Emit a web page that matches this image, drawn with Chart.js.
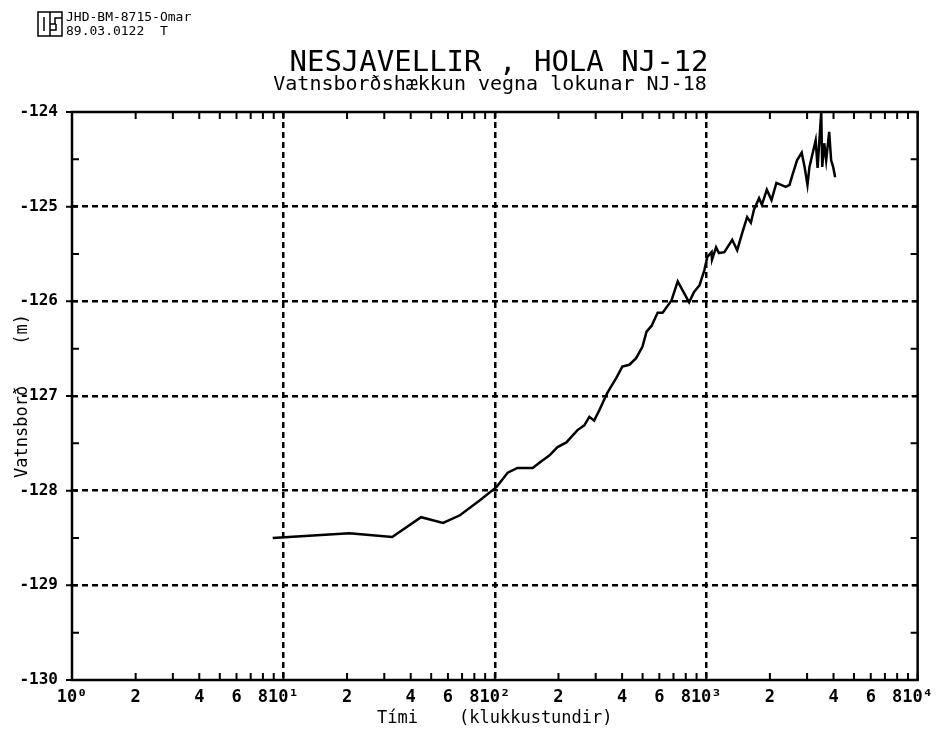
<!DOCTYPE html>
<html>
<head>
<meta charset="utf-8">
<script src="https://cdn.jsdelivr.net/npm/chart.js@4"></script>
<style>
  html, body { margin: 0; padding: 0; background: #fff; }
  #wrap { position: relative; width: 940px; height: 732px; }
</style>
</head>
<body>
<div id="wrap"><canvas id="levelChart" width="940" height="732"></canvas></div>
<script>
// hours since closing NJ-18 and water level in NJ-12 (m)
const hours = [8.9, 20.5, 32.7, 44.8, 56.9, 68.4, 85, 102, 115, 128, 151, 166, 181, 198, 218, 246, 265, 280, 295, 312,
  340, 375, 401, 433, 466, 499, 522, 551, 589, 622, 685, 733, 830, 876, 930, 980, 1012, 1060, 1065, 1113,
  1148, 1218, 1327, 1401, 1479, 1561, 1626, 1683, 1778, 1833, 1935, 2036, 2147, 2260, 2377, 2477, 2554, 2688, 2829, 2919,
  3012, 3078, 3293, 3363, 3499, 3537, 3614, 3693, 3815, 3898, 3984, 4072];
const levels = [-128.50, -128.45, -128.49, -128.28, -128.34, -128.26, -128.10, -127.96, -127.81, -127.76, -127.76, -127.69, -127.63, -127.54, -127.49, -127.36, -127.31, -127.22, -127.26, -127.15,
  -126.97, -126.81, -126.69, -126.67, -126.60, -126.48, -126.32, -126.26, -126.12, -126.12, -125.99, -125.79, -126.01, -125.90, -125.83, -125.67, -125.53, -125.48, -125.56, -125.43,
  -125.49, -125.48, -125.35, -125.46, -125.28, -125.11, -125.17, -125.03, -124.91, -124.98, -124.82, -124.93, -124.75, -124.77, -124.79, -124.77, -124.67, -124.51, -124.43, -124.58,
  -124.77, -124.58, -124.30, -124.59, -124.00, -124.58, -124.33, -124.51, -124.21, -124.51, -124.58, -124.69];

const yTicks = [-130, -129, -128, -127, -126, -125, -124];
const yMinor = [-129.5, -128.5, -127.5, -126.5, -125.5, -124.5];
const decades = [1, 10, 100, 1000, 10000];
const xLabelDigits = [2, 4, 6, 8];
const superscripts = ['\u2070', '\u00B9', '\u00B2', '\u00B3', '\u2074'];

const headerLines = ['JHD-BM-8715-Omar', '89.03.0122  T'];
const mainTitle = 'NESJAVELLIR , HOLA NJ-12';
const subTitle = 'Vatnsbor\u00F0sh\u00E6kkun vegna lokunar NJ-18';
const xTitle = 'T\u00EDmi    (klukkustundir)';
const yTitle = 'Vatnsbor\u00F0    (m)';

const mono = '"DejaVu Sans Mono", monospace';

// every 1..9 step in each decade, for the small tick marks
const xTickValues = [];
for (let k = 0; k < 4; k++) {
  for (let m = 1; m < 10; m++) xTickValues.push(m * decades[k]);
}
xTickValues.push(10000);

function xLabel(v) {
  const k = Math.round(Math.log10(v));
  if (Math.abs(v - Math.pow(10, k)) < 1e-6) return '10' + superscripts[k];
  const m = Math.round(v / Math.pow(10, Math.floor(Math.log10(v) + 1e-9)));
  return xLabelDigits.includes(m) ? String(m) : '';
}
function isInnerDecade(v) {
  return decades.slice(1, 4).some(d => Math.abs(v - d) < 1e-6);
}

const points = hours.map((h, i) => ({ x: h, y: levels[i] }));

// frame, inside tick marks, titles and the header stamp
const framePlugin = {
  id: 'frame',
  afterDraw(chart) {
    const { ctx, chartArea: a, scales: { x, y } } = chart;
    ctx.save();
    ctx.strokeStyle = '#000';
    ctx.lineWidth = 2.5;
    ctx.setLineDash([]);
    ctx.strokeRect(a.left, a.top, a.right - a.left, a.bottom - a.top);

    ctx.lineWidth = 2;
    ctx.beginPath();
    xTickValues.forEach(v => {
      const px = x.getPixelForValue(v);
      ctx.moveTo(px, a.bottom); ctx.lineTo(px, a.bottom - 7);
      ctx.moveTo(px, a.top); ctx.lineTo(px, a.top + 7);
    });
    yMinor.forEach(v => {
      const py = y.getPixelForValue(v);
      ctx.moveTo(a.left, py); ctx.lineTo(a.left + 7, py);
      ctx.moveTo(a.right, py); ctx.lineTo(a.right - 7, py);
    });
    yTicks.forEach(v => {
      const py = y.getPixelForValue(v);
      ctx.moveTo(a.left - 6, py); ctx.lineTo(a.left + 6, py);
      ctx.moveTo(a.right, py); ctx.lineTo(a.right - 6, py);
    });
    ctx.stroke();

    // titles
    ctx.fillStyle = '#000';
    ctx.textAlign = 'center';
    ctx.textBaseline = 'alphabetic';
    ctx.font = '29px ' + mono;
    ctx.fillText(mainTitle, 499, 71);
    ctx.font = '20px ' + mono;
    ctx.fillText(subTitle, 490, 90);

    // OS stamp + header
    ctx.lineWidth = 1.5;
    ctx.strokeRect(38, 12, 24, 24);
    ctx.beginPath();
    ctx.moveTo(50, 12); ctx.lineTo(50, 36);
    ctx.moveTo(44, 17); ctx.lineTo(44, 31);
    ctx.moveTo(50, 24); ctx.lineTo(56, 24);
    ctx.moveTo(62, 18); ctx.lineTo(55, 18); ctx.lineTo(55, 24);
    ctx.moveTo(56, 24); ctx.lineTo(56, 30); ctx.lineTo(50, 30);
    ctx.stroke();
    ctx.textAlign = 'left';
    ctx.font = '13px ' + mono;
    ctx.fillText(headerLines[0], 66, 21);
    ctx.fillText(headerLines[1], 66, 35);
    ctx.restore();
  }
};

new Chart(document.getElementById('levelChart'), {
  type: 'line',
  data: {
    datasets: [{
      data: points,
      borderColor: '#000',
      borderWidth: 2.5,
      pointRadius: 0,
      tension: 0
    }]
  },
  options: {
    responsive: false,
    animation: false,
    layout: { padding: { top: 112, right: 20, bottom: 0, left: 0 } },
    plugins: {
      legend: { display: false },
      tooltip: { enabled: false }
    },
    scales: {
      x: {
        type: 'logarithmic',
        min: 1,
        max: 10000,
        afterBuildTicks: s => { s.ticks = xTickValues.map(v => ({ value: v })); },
        afterFit: s => { s.height = 52; },
        ticks: {
          autoSkip: false,
          maxRotation: 0,
          padding: 7,
          color: '#000',
          font: { family: mono, size: 17, weight: 'bold' },
          callback: v => xLabel(v)
        },
        grid: {
          drawTicks: false,
          lineWidth: 2.5,
          color: c => (c.tick && isInnerDecade(c.tick.value)) ? '#000' : 'rgba(0,0,0,0)'
        },
        border: { display: false, dash: [6, 4] },
        title: {
          display: true,
          text: xTitle,
          color: '#000',
          font: { family: mono, size: 17 },
          padding: { top: 4, bottom: 3 }
        }
      },
      y: {
        min: -130,
        max: -124,
        afterBuildTicks: s => { s.ticks = yTicks.map(v => ({ value: v })); },
        afterFit: s => { s.width = 72; },
        ticks: {
          padding: 14,
          color: '#000',
          font: { family: mono, size: 16, weight: 'bold' },
          callback: v => String(v)
        },
        grid: {
          drawTicks: false,
          lineWidth: 2.5,
          color: c => (c.tick && c.tick.value > -130 && c.tick.value < -124) ? '#000' : 'rgba(0,0,0,0)'
        },
        border: { display: false, dash: [6, 4] },
        title: {
          display: true,
          text: yTitle,
          color: '#000',
          font: { family: mono, size: 17 },
          padding: { top: 12, bottom: 0 }
        }
      }
    }
  },
  plugins: [framePlugin]
});
</script>
</body>
</html>
